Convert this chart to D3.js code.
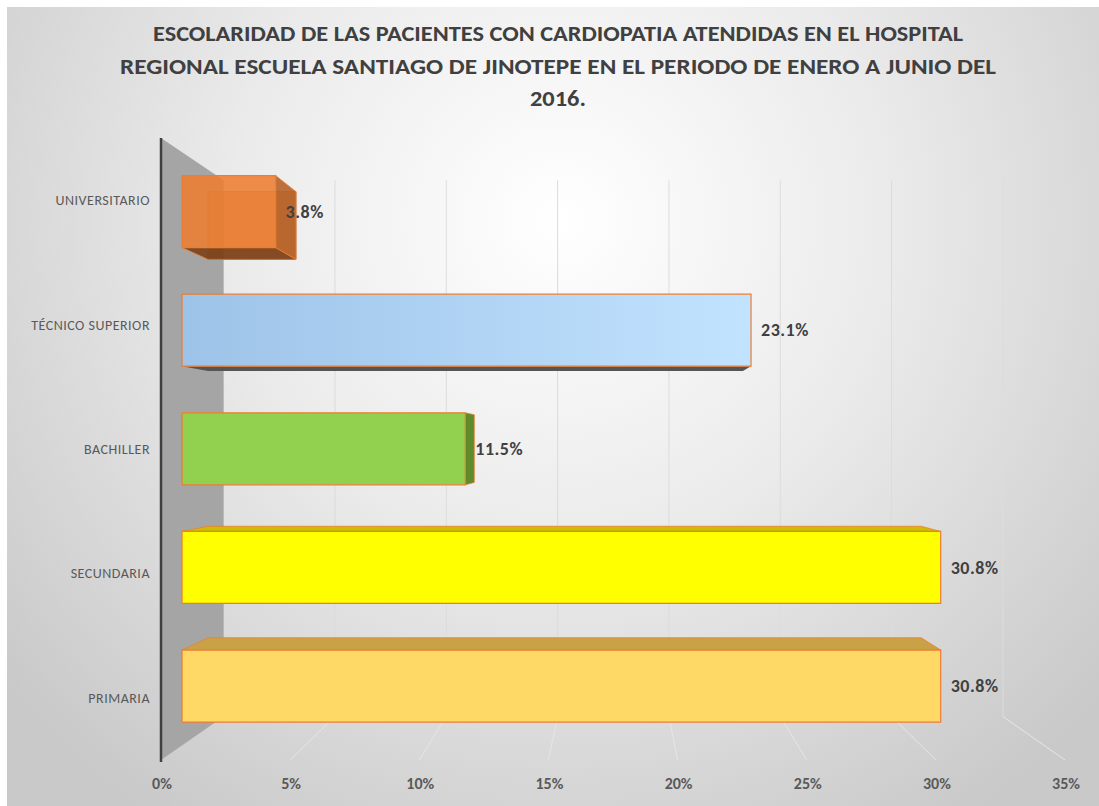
<!DOCTYPE html>
<html>
<head>
<meta charset="utf-8">
<script src="https://cdn.jsdelivr.net/npm/d3@7"></script>
<style>
  body { margin: 0; background: #fff; }
  svg text { font-family: Carlito, Lato, "Open Sans", sans-serif; }
</style>
</head>
<body>
<svg id="chart"></svg>
<script>
// data
const categories = ["PRIMARIA", "SECUNDARIA", "BACHILLER", "TÉCNICO SUPERIOR", "UNIVERSITARIO"];
const values = [30.8, 30.8, 11.5, 23.1, 3.8];
const tickValues = [0, 5, 10, 15, 20, 25, 30, 35];
const titleLines = [
  "ESCOLARIDAD DE LAS PACIENTES CON CARDIOPATIA ATENDIDAS EN EL HOSPITAL",
  "REGIONAL ESCUELA SANTIAGO DE JINOTEPE EN EL PERIODO DE ENERO A JUNIO DEL",
  "2016."
];
const faceColors = ["#FFD966", "#FFFF00", "#92D050", "url(#blueGrad)", "#ED7D31"];
const topColors = ["#c9a247", "#cbbd00", "#6e9d3a", "#6f8fae", "#a9561f"];
const sideColors = ["#b8952f", "#b9b000", "#5f8b2b", "#7f9cb8", "#b55e22"];
const bottomColors = ["#8a6d25", "#8a8500", "#4c7021", "#555555", "#7a3f16"];

const svgWidth = 1099, svgHeight = 806;
const svg = d3.select("#chart").attr("width", svgWidth).attr("height", svgHeight);

// perspective: vanishing point and depth factors
const vx = 615, vy = 445;
const kBarFront = 0.9537, kBarBack = 0.8965, kWall = 0.862;
function project(px, py, k) {
  return [vx + (px - vx) * k, vy + (py - vy) * k];
}

const x = d3.scaleLinear().domain([0, 35]).range([161, 1065]);
const y = d3.scaleBand()
  .domain(categories.slice().reverse())
  .range([138, 760])
  .paddingInner(0.393)
  .paddingOuter(0.1965);

const defs = svg.append("defs");
const bg = defs.append("radialGradient").attr("id", "bgGrad")
  .attr("gradientUnits", "userSpaceOnUse")
  .attr("cx", 560).attr("cy", 220).attr("r", 720);
bg.append("stop").attr("offset", 0).attr("stop-color", "#ffffff");
bg.append("stop").attr("offset", 0.45).attr("stop-color", "#ebebeb");
bg.append("stop").attr("offset", 1).attr("stop-color", "#c9c9c9");

const blue = defs.append("linearGradient").attr("id", "blueGrad");
blue.append("stop").attr("offset", 0).attr("stop-color", "#9dc3e8");
blue.append("stop").attr("offset", 1).attr("stop-color", "#c2e3ff");

svg.append("rect")
  .attr("x", 7).attr("y", 7)
  .attr("width", svgWidth - 7).attr("height", svgHeight - 7)
  .attr("fill", "url(#bgGrad)");

// title
svg.append("g").selectAll("text")
  .data(titleLines)
  .join("text")
  .attr("x", 558)
  .attr("y", (d, i) => 41 + i * 32.5)
  .attr("text-anchor", "middle")
  .attr("font-size", 23)
  .attr("font-weight", "bold")
  .attr("fill", "#404040")
  .attr("textLength", (d, i) => [810, 876, 56][i])
  .attr("lengthAdjust", "spacingAndGlyphs")
  .text(d => d);

const yTop = y.range()[0], yBot = y.range()[1];
const line = d3.line();

// back wall gridlines
svg.append("g").selectAll("path")
  .data(tickValues.slice(1))
  .join("path")
  .attr("d", t => line([project(x(t), yTop, kWall), project(x(t), yBot, kWall)]))
  .attr("stroke", "#dcdcdc")
  .attr("fill", "none");

// floor gridlines
svg.append("g").selectAll("path")
  .data(tickValues.slice(1))
  .join("path")
  .attr("d", t => line([project(x(t), yBot, 1), project(x(t), yBot, kWall)]))
  .attr("stroke", "#e6e6e6")
  .attr("fill", "none");

// left side wall
svg.append("path")
  .attr("d", line([
    project(x(0), yTop, 1), project(x(0), yTop, kWall),
    project(x(0), yBot, kWall), project(x(0), yBot, 1)
  ]) + "Z")
  .attr("fill", "#a5a5a5");

svg.append("path")
  .attr("d", line([project(x(0), yTop, 1), project(x(0), yBot + 2, 1)]))
  .attr("stroke", "#404040")
  .attr("stroke-width", 2.5);

// category labels
svg.append("g").selectAll("text")
  .data(categories)
  .join("text")
  .attr("x", 150)
  .attr("y", d => y(d) + y.bandwidth() / 2)
  .attr("dy", "0.35em")
  .attr("text-anchor", "end")
  .attr("font-size", 14)
  .attr("letter-spacing", 0.5)
  .attr("fill", "#595959")
  .text(d => d);

// tick labels
svg.append("g").selectAll("text")
  .data(tickValues)
  .join("text")
  .attr("x", t => x(t) + 1)
  .attr("y", 783)
  .attr("dy", "0.35em")
  .attr("text-anchor", "middle")
  .attr("font-size", 16)
  .attr("font-weight", "bold")
  .attr("fill", "#595959")
  .text(t => t + "%");

// 3D bars
const bars = svg.append("g");
categories.forEach((c, i) => {
  const x0 = x(0), x1 = x(values[i]);
  const t0 = y(c), t1 = y(c) + y.bandwidth();
  const g = bars.append("g");
  const face = (pts) => line(pts) + "Z";
  const translucent = i === 4;
  const op = translucent ? 0.88 : 1;
  const f = (px, py) => project(px, py, kBarFront);
  const b = (px, py) => project(px, py, kBarBack);

  if (translucent) {
    g.append("path").attr("d", face([b(x0, t0), b(x1, t0), b(x1, t1), b(x0, t1)]))
      .attr("fill", sideColors[i]).attr("fill-opacity", 0.5)
      .attr("stroke", "#a9561f").attr("stroke-width", 0.8);
  }
  // top face (visible when bar is below eye level)
  if (f(x0, t0)[1] > vy) {
    g.append("path").attr("d", face([f(x0, t0), f(x1, t0), b(x1, t0), b(x0, t0)]))
      .attr("fill", topColors[i]).attr("fill-opacity", op)
      .attr("stroke", "#ED7D31").attr("stroke-width", 0.8);
  }
  // bottom face
  if (f(x0, t1)[1] < vy) {
    g.append("path").attr("d", face([f(x0, t1), f(x1, t1), b(x1, t1), b(x0, t1)]))
      .attr("fill", bottomColors[i]).attr("fill-opacity", op)
      .attr("stroke", translucent ? "#ED7D31" : "none").attr("stroke-width", 0.8);
  }
  // right face
  if (f(x1, t0)[0] < vx) {
    g.append("path").attr("d", face([f(x1, t0), b(x1, t0), b(x1, t1), f(x1, t1)]))
      .attr("fill", sideColors[i]).attr("fill-opacity", op)
      .attr("stroke", "#ED7D31").attr("stroke-width", 0.8);
  }
  // front face
  g.append("path").attr("d", face([f(x0, t0), f(x1, t0), f(x1, t1), f(x0, t1)]))
    .attr("fill", faceColors[i]).attr("fill-opacity", op)
    .attr("stroke", "#ED7D31").attr("stroke-width", 1.2);

  // data label
  const mid = f(x1, (t0 + t1) / 2);
  svg.append("text")
    .attr("x", mid[0] + 10)
    .attr("y", mid[1])
    .attr("dy", "0.35em")
    .attr("font-size", 18)
    .attr("letter-spacing", 0.5)
    .attr("font-weight", "bold")
    .attr("fill", "#404040")
    .text(values[i].toFixed(1) + "%");
});
</script>
</body>
</html>
